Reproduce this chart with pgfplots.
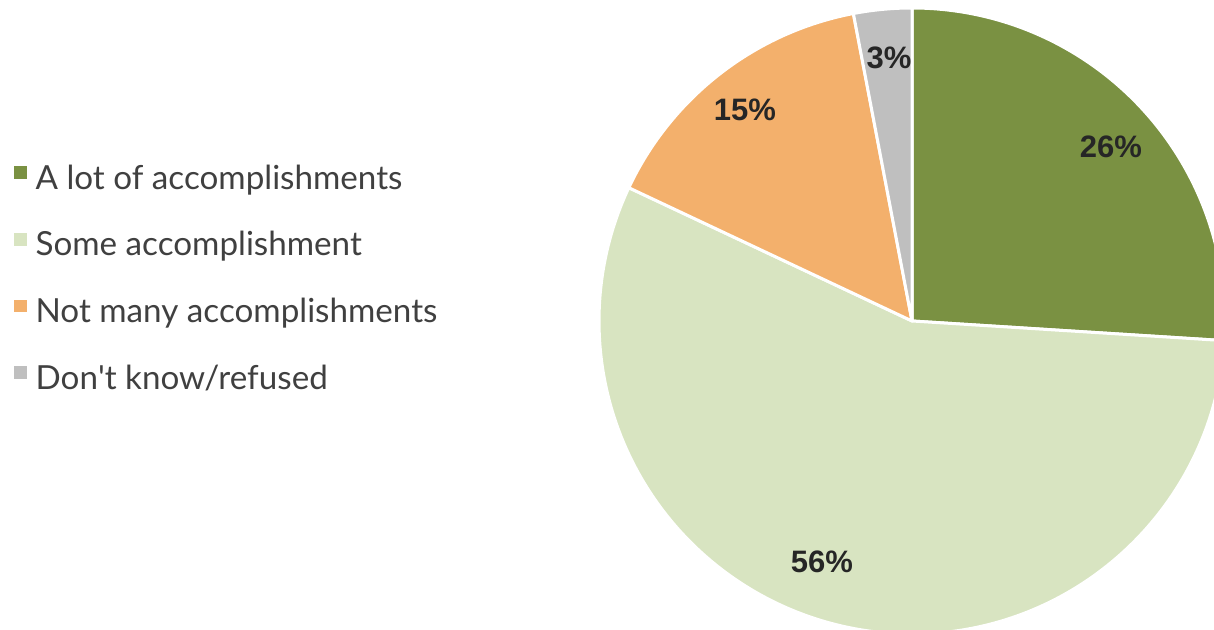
\documentclass[border=0pt]{standalone}
\usepackage{pgfplots}
\pgfplotsset{compat=1.18}
\usepackage{pgfplotstable}
\usepackage{fontspec}
\setmainfont{Lato}
\newfontfamily\labelfont{Liberation Sans}

\definecolor{slice0}{HTML}{7A9142}
\definecolor{slice1}{HTML}{D8E4C1}
\definecolor{slice2}{HTML}{F3B06C}
\definecolor{slice3}{HTML}{BFBFBF}
\definecolor{legendtext}{HTML}{404040}
\definecolor{labeltext}{HTML}{262626}

% share in percent, label position (pixel grid, y up), legend name
\pgfplotstableread[col sep=comma]{
share,lx,ly,name
26,1111,483,A lot of accomplishments
56,822,68,Some accomplishment
15,745,520,Not many accomplishments
3,889,572,Don\textquotesingle t know/refused
}\piedata

\tikzset{
  pielabel/.style={font=\labelfont\bfseries\fontsize{15.5}{18}\selectfont, text=labeltext, inner sep=0pt},
}

\begin{document}
\begin{tikzpicture}
\begin{axis}[
    scale only axis,
    width=607pt, height=315pt,
    xmin=0, xmax=1214, ymin=0, ymax=630,
    hide axis,
    clip=true,
    legend style={draw=none, fill=none,
        at={(0.0066,0.558)}, anchor=west,
        font=\fontsize{16.6}{19}\selectfont, text=legendtext,
        row sep=19.6pt, column sep=4.3pt,
        nodes={inner sep=0pt}},
    legend cell align=left,
    legend image code/.code={\fill[#1, draw=none] (0pt,-0.3pt) rectangle (6.3pt,6pt);},
]
\def\cum{0}
\pgfplotsforeachungrouped \i in {0,...,3}{
    \pgfplotstablegetelem{\i}{share}\of\piedata
    \let\v\pgfplotsretval
    \pgfplotstablegetelem{\i}{lx}\of\piedata
    \let\lx\pgfplotsretval
    \pgfplotstablegetelem{\i}{ly}\of\piedata
    \let\ly\pgfplotsretval
    \pgfplotstablegetelem{\i}{name}\of\piedata
    \let\nm\pgfplotsretval
    \pgfmathsetmacro\a{90-3.6*\cum}
    \pgfmathsetmacro\b{90-3.6*(\cum+\v)}
    \pgfmathsetmacro\sx{912+313*cos(\a)}
    \pgfmathsetmacro\sy{309+313*sin(\a)}
    \edef\slice{%
        \noexpand\fill[fill=slice\i, draw=white, line width=1.5pt, line join=round]
          (axis cs:912,309) -- (axis cs:\sx,\sy)
          arc[start angle=\a, end angle=\b, radius=156.5pt] -- cycle;
        \noexpand\node[pielabel] at (axis cs:\lx,\ly) {\v\noexpand\%};
        \noexpand\addlegendimage{fill=slice\i}
        \noexpand\addlegendentry{\unexpanded\expandafter{\nm}}
    }
    \slice
    \pgfmathsetmacro\cum{\cum+\v}
}
\end{axis}
\pgfresetboundingbox
\path[use as bounding box] (current axis.south west) rectangle (current axis.north east);
\end{tikzpicture}
\end{document}
